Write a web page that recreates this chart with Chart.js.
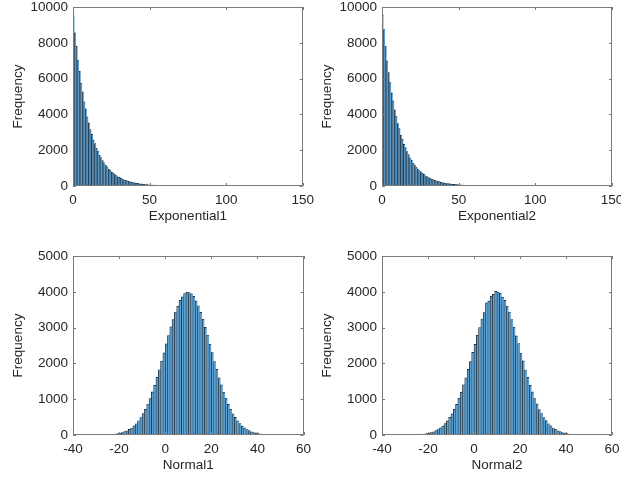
<!DOCTYPE html>
<html>
<head>
<meta charset="utf-8">
<script src="https://cdn.jsdelivr.net/npm/chart.js@4.4.1/dist/chart.umd.min.js"></script>
<style>
  html, body { margin: 0; padding: 0; background: #fff; overflow: hidden; }
  body { width: 621px; height: 482px; position: relative; }
  .panel { position: absolute; }
</style>
</head>
<body>
<div class="panel" id="p1"><canvas id="c1"></canvas></div>
<div class="panel" id="p2"><canvas id="c2"></canvas></div>
<div class="panel" id="p3"><canvas id="c3"></canvas></div>
<div class="panel" id="p4"><canvas id="c4"></canvas></div>
<script>
// histogram bin counts (bin width 1)
const expStart = 0;
const expCounts1 = [9520, 8560, 7810, 7040, 6400, 5740, 5260, 4700, 4310, 3860, 3530, 3150, 2900, 2580, 2370, 2110, 1950, 1720, 1590, 1420,
  1300, 1160, 1070, 945, 872, 776, 715, 632, 586, 518, 480, 424, 392, 347, 322, 284, 263, 232, 216, 190,
  176, 155, 145, 127, 118, 104, 97, 85, 79, 70, 65, 57, 53, 46, 43, 38, 36, 31, 29, 25,
  24, 20, 19, 17, 16, 13, 13, 11, 10, 9, 8, 8, 7, 6, 5, 5, 4, 4, 3, 3,
  3, 2, 2, 2, 2, 1, 1, 1, 1, 1, 1, 0, 1, 0, 1, 0, 0, 1, 0, 0, 0, 1, 0, 0, 0, 0, 1, 0, 0, 0, 0, 0, 0, 0, 1];
const expCounts2 = [9560, 8740, 7820, 6990, 6330, 5810, 5200, 4760, 4250, 3910, 3480, 3200, 2850, 2620, 2330, 2150, 1920, 1760, 1570, 1440,
  1280, 1180, 1050, 960, 858, 790, 702, 648, 574, 530, 470, 436, 384, 356, 316, 292, 258, 240, 211, 196,
  172, 161, 141, 132, 115, 108, 94, 89, 77, 72, 63, 59, 51, 48, 42, 39, 34, 32, 28, 26,
  23, 21, 19, 17, 15, 14, 12, 11, 10, 9, 8, 7, 7, 6, 5, 5, 4, 4, 3, 3,
  2, 2, 2, 2, 1, 1, 1, 1, 1, 1, 1, 0, 1, 0, 0, 1, 0, 0, 0, 1, 0, 0, 0, 0, 0, 1, 0, 0, 0, 1];

const normStart = -34;
const normCounts1 = [0, 1, 1, 1, 2, 2, 4, 5, 7, 10, 15, 20, 28, 38, 52, 68, 92, 118, 156, 196,
  255, 314, 398, 486, 600, 716, 866, 1018, 1206, 1388, 1610, 1822, 2064, 2292, 2548, 2774, 3018, 3224, 3436, 3600,
  3760, 3860, 3950, 3990, 3980, 3940, 3870, 3748, 3610, 3424, 3236, 3004, 2786, 2536, 2304, 2052, 1832, 1598, 1398, 1194,
  1026, 856, 724, 592, 492, 392, 320, 250, 200, 152, 120, 90, 70, 50, 39, 27, 21, 14, 10, 7,
  5, 3, 2, 2, 1, 1, 0, 1];
const normCounts2 = [1, 1, 1, 2, 2, 3, 3, 5, 8, 11, 14, 21, 27, 40, 50, 70, 90, 121, 152, 200,
  250, 320, 392, 490, 592, 724, 858, 1026, 1196, 1400, 1598, 1834, 2050, 2306, 2534, 2790, 3002, 3240, 3420, 3690,
  3740, 3880, 3930, 4010, 3990, 3960, 3850, 3760, 3596, 3436, 3220, 3016, 2770, 2550, 2290, 2068, 1816, 1612, 1386, 1206,
  1014, 868, 712, 600, 484, 400, 314, 256, 196, 156, 116, 92, 68, 52, 37, 28, 19, 15, 10, 7,
  5, 4, 3, 2, 1];

const expXTicks = [0, 50, 100, 150];
const normXTicks = [-40, -20, 0, 20, 40, 60];
const expYTicks = [0, 2000, 4000, 6000, 8000, 10000];
const normYTicks = [0, 1000, 2000, 3000, 4000, 5000];

const textColor = '#262626';
const axisColor = '#7a7a7a';
const fontFamily = '"Liberation Sans", Arial, Helvetica, sans-serif';

// MATLAB-like box with inward ticks
const boxPlugin = {
    id: 'matlabBox',
    afterDatasetsDraw(chart) {
        const { ctx, chartArea: a, scales: { x, y } } = chart;
        const tl = 3;
        ctx.save();
        ctx.strokeStyle = axisColor;
        ctx.lineWidth = 1;
        ctx.beginPath();
        ctx.rect(Math.round(a.left) + 0.5, Math.round(a.top) + 0.5,
            Math.round(a.right) - Math.round(a.left) - 1, Math.round(a.bottom) - Math.round(a.top) - 1);
        x.ticks.forEach(t => {
            const px = Math.round(x.getPixelForValue(t.value)) + 0.5;
            ctx.moveTo(px, a.bottom); ctx.lineTo(px, a.bottom - tl);
            ctx.moveTo(px, a.top); ctx.lineTo(px, a.top + tl);
        });
        y.ticks.forEach(t => {
            const py = Math.round(y.getPixelForValue(t.value)) + 0.5;
            ctx.moveTo(a.left, py); ctx.lineTo(a.left + tl, py);
            ctx.moveTo(a.right, py); ctx.lineTo(a.right - tl, py);
        });
        ctx.stroke();
        ctx.restore();
    }
};

function makeHist(canvasId, panelId, box, plot, start, counts, xMin, xMax, xTicks, yMax, yTicks, xLabel) {
    const panel = document.getElementById(panelId);
    panel.style.left = box.left + 'px';
    panel.style.top = box.top + 'px';
    panel.style.width = box.width + 'px';
    panel.style.height = box.height + 'px';

    const yAxisW = 63;
    const xAxisH = 38.8;
    const points = counts.map((c, i) => ({ x: start + i + 0.5, y: c }));

    new Chart(document.getElementById(canvasId), {
        type: 'bar',
        data: {
            datasets: [{
                data: points,
                backgroundColor: 'rgb(92, 160, 210)',
                borderColor: '#0b1620',
                borderWidth: { left: 0.7, right: 0, top: 0.7 },
                barPercentage: 1,
                categoryPercentage: 1,
                inflateAmount: 0.35
            }]
        },
        options: {
            responsive: true,
            maintainAspectRatio: false,
            animation: false,
            layout: {
                padding: {
                    left: plot.left - yAxisW - box.left,
                    top: plot.top - box.top,
                    right: box.left + box.width - plot.right,
                    bottom: box.top + box.height - plot.bottom - xAxisH
                }
            },
            plugins: { legend: { display: false }, tooltip: { enabled: false } },
            scales: {
                x: {
                    type: 'linear',
                    min: xMin,
                    max: xMax,
                    offset: false,
                    afterFit: s => { s.height = xAxisH; },
                    afterBuildTicks: s => { s.ticks = xTicks.map(v => ({ value: v })); },
                    grid: { display: false, drawTicks: false },
                    border: { display: false },
                    ticks: {
                        padding: 6,
                        maxRotation: 0,
                        autoSkip: false,
                        color: textColor,
                        font: { family: fontFamily, size: 13.5 },
                        callback: v => String(v)
                    },
                    title: {
                        display: true,
                        text: xLabel,
                        color: textColor,
                        padding: 0,
                        font: { family: fontFamily, size: 13.5 }
                    }
                },
                y: {
                    min: 0,
                    max: yMax,
                    afterFit: s => { s.width = yAxisW; },
                    afterBuildTicks: s => { s.ticks = yTicks.map(v => ({ value: v })); },
                    grid: { display: false, drawTicks: false },
                    border: { display: false },
                    ticks: {
                        padding: 5,
                        color: textColor,
                        font: { family: fontFamily, size: 13.5 },
                        callback: v => String(v)
                    },
                    title: {
                        display: true,
                        text: 'Frequency',
                        color: textColor,
                        padding: 0,
                        font: { family: fontFamily, size: 13.5 }
                    }
                }
            }
        },
        plugins: [boxPlugin]
    });
}

makeHist('c1', 'p1', { left: 0, top: -13, width: 320, height: 253 }, { left: 73, top: 7, right: 303.5, bottom: 186 },
    expStart, expCounts1, 0, 150, expXTicks, 10000, expYTicks, 'Exponential1');
makeHist('c2', 'p2', { left: 310, top: -13, width: 330, height: 253 }, { left: 382, top: 7, right: 612, bottom: 186 },
    expStart, expCounts2, 0, 150, expXTicks, 10000, expYTicks, 'Exponential2');
makeHist('c3', 'p3', { left: 0, top: 236, width: 320, height: 253 }, { left: 73, top: 256, right: 303.5, bottom: 435 },
    normStart, normCounts1, -40, 60, normXTicks, 5000, normYTicks, 'Normal1');
makeHist('c4', 'p4', { left: 310, top: 236, width: 330, height: 253 }, { left: 382, top: 256, right: 612, bottom: 435 },
    normStart, normCounts2, -40, 60, normXTicks, 5000, normYTicks, 'Normal2');
</script>
</body>
</html>
